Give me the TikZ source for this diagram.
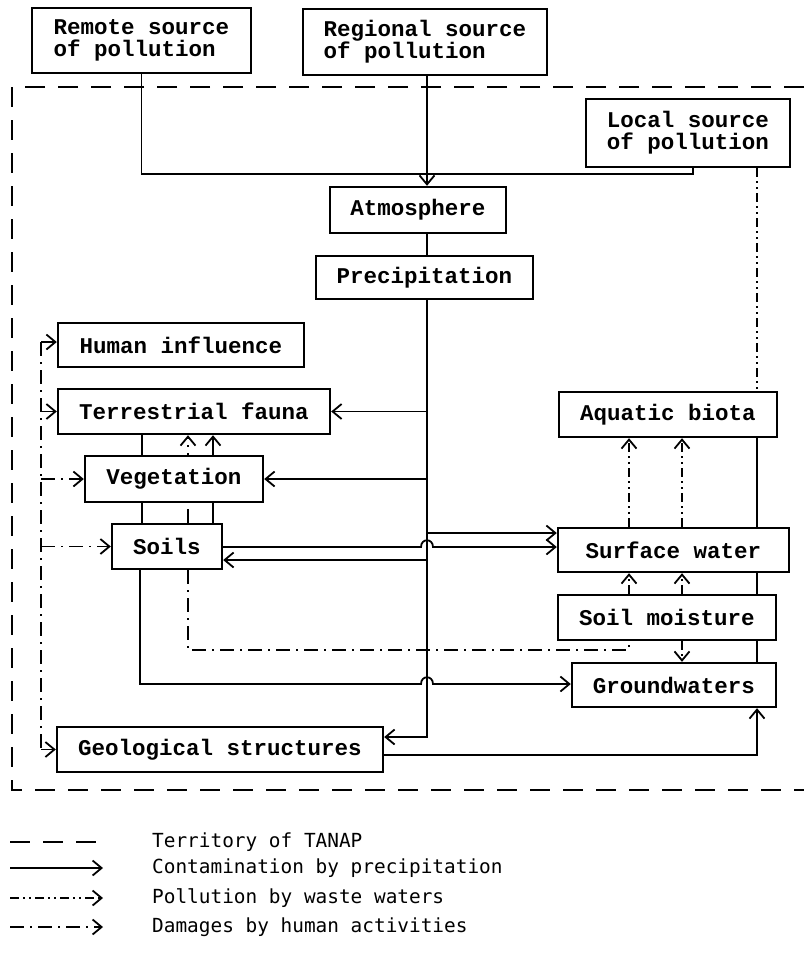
\documentclass[tikz,border=0pt]{standalone}
\usepackage{fontspec}
\newfontfamily\boxfont{Liberation Mono}
\newfontfamily\legfont{DejaVu Sans Mono}
\usetikzlibrary{arrows.meta,backgrounds,calc}
\begin{document}
\begin{tikzpicture}[x=1pt,y=-1pt,
  bx/.style={draw, line width=2.4pt, fill=white, inner sep=0pt, font=\boxfont\bfseries\fontsize{22.5}{22}\selectfont, align=left},
  ln/.style={line width=1.8pt},
  arr/.style={-{Straight Barb[length=9pt,width=15pt]}},
  terr/.style={line width=1.8pt, dash pattern=on 20pt off 13pt},
  hum/.style={line width=1.8pt, dash pattern=on 14pt off 6pt on 2pt off 6pt},
  waste/.style={line width=1.8pt, dash pattern=on 9pt off 4pt on 2pt off 4pt on 2pt off 4pt},
  leg/.style={font=\legfont\fontsize{19.4}{22}\selectfont, anchor=west, inner sep=0pt}]
\useasboundingbox (0,0) rectangle (804,956);

% boxes
\node[bx, minimum width=219pt, minimum height=65pt] (remote) at (141.5,40.5) {Remote source\\of pollution};
\node[bx, minimum width=244pt, minimum height=66pt] (regional) at (425,42) {Regional source\\of pollution};
\node[bx, minimum width=204pt, minimum height=68pt] (local) at (688,133) {Local source\\of pollution};
\node[bx, minimum width=176pt, minimum height=46pt] (atmos) at (418,210) {Atmosphere};
\node[bx, minimum width=217pt, minimum height=43pt] (precip) at (424.5,277.5) {Precipitation};
\node[bx, minimum width=246pt, minimum height=44pt] (human) at (181,345) {Human influence};
\node[bx, minimum width=272pt, minimum height=45pt] (fauna) at (194,411.5) {Terrestrial fauna};
\node[bx, minimum width=178pt, minimum height=46pt] (veg) at (174,479) {Vegetation};
\node[bx, minimum width=110pt, minimum height=45pt] (soils) at (167,546.5) {Soils};
\node[bx, minimum width=326pt, minimum height=45pt] (geo) at (220,749.5) {Geological structures};
\node[bx, minimum width=218pt, minimum height=45pt] (aquatic) at (668,414.5) {Aquatic biota};
\node[bx, minimum width=231pt, minimum height=44pt] (surface) at (673.5,550) {Surface water};
\node[bx, minimum width=218pt, minimum height=45pt] (moisture) at (667,617.5) {Soil moisture};
\node[bx, minimum width=204pt, minimum height=44pt] (ground) at (674,685) {Groundwaters};

% helper coordinates
\coordinate (tx) at (427,0);
\coordinate (j1) at (427,174);
\coordinate (lx) at (693,0);
\coordinate (rx) at (757,0);
\coordinate (c41) at (41,0);
\coordinate (c140) at (140,0);
\coordinate (c142) at (142,0);
\coordinate (c188) at (188,0);
\coordinate (c213) at (213,0);
\coordinate (c629) at (629,0);
\coordinate (c682) at (682,0);
\coordinate (k1) at (629,650);
\coordinate (h1a) at (421,547);
\coordinate (h1b) at (433,547);
\coordinate (h2a) at (421,684);
\coordinate (h2b) at (433,684);
\coordinate (swin) at ([yshift=17pt]surface.west);
\coordinate (soin) at ([yshift=-13.5pt]soils.east);
\coordinate (geoin) at ([yshift=12.5pt]geo.east);
\coordinate (geoout) at ([yshift=-5.5pt]geo.east);
\coordinate (hin) at ([yshift=3pt]human.west);

\begin{scope}[on background layer]
% territory
\draw[terr] (804,87) -- (12,87) -- (12,790) -- (804,790);
% sources to atmosphere
\draw[ln] (remote.south) |- (j1);
\draw[ln] (local.south -| lx) |- (j1);
\draw[ln,arr] (regional.south -| tx) -- (atmos.north -| tx);
\draw[ln] (atmos.south -| tx) -- (precip.north -| tx);
% precipitation trunk
\draw[ln,arr] (precip.south -| tx) |- (geoin);
\draw[ln,arr] (fauna.east -| tx) -- (fauna.east);
\draw[ln,arr] (veg.east -| tx) -- (veg.east);
\draw[ln,arr] (swin -| tx) -- (swin);
\draw[ln,arr] (soin -| tx) -- (soin);
% soils outputs
\draw[ln,arr] (soils.east |- h1a) -- (h1a) .. controls +(0,-9) and +(0,-9) .. (h1b) -- (surface.west |- h1b);
\draw[ln,arr] (soils.south -| c140) |- (h2a) .. controls +(0,-9) and +(0,-9) .. (h2b) -- (ground.west |- h2b);
\draw[ln] (soils.north -| c142) -- (fauna.south -| c142);
\draw[hum,arr] (soils.north -| c188) -- (fauna.south -| c188);
\draw[ln,arr] (soils.north -| c213) -- (fauna.south -| c213);
\draw[hum] (soils.south -| c188) |- (k1) -- (moisture.south -| k1);
% human activities
\draw[hum] (hin -| c41) -- (geo.west -| c41);
\draw[hum,arr] (hin -| c41) -- (hin);
\draw[hum,arr] (fauna.west -| c41) -- (fauna.west);
\draw[hum,arr] (veg.west -| c41) -- (veg.west);
\draw[hum,arr] (soils.west -| c41) -- (soils.west);
\draw[hum,arr] (geo.west -| c41) -- (geo.west);
% right side
\draw[waste] (local.south -| rx) -- (aquatic.north -| rx);
\draw[ln] (aquatic.south -| rx) -- (ground.north -| rx);
\draw[ln,arr] (geoout) -| (ground.south -| rx);
\draw[waste,arr] (surface.north -| c629) -- (aquatic.south -| c629);
\draw[waste,arr] (surface.north -| c682) -- (aquatic.south -| c682);
\draw[waste,arr] (moisture.north -| c629) -- (surface.south -| c629);
\draw[waste,arr] (moisture.north -| c682) -- (surface.south -| c682);
\draw[waste,arr] (moisture.south -| c682) -- (ground.north -| c682);
\end{scope}

% legend
\node[leg] (l1) at (152,842) {Territory of TANAP};
\node[leg] (l2) at (152,868) {Contamination by precipitation};
\node[leg] (l3) at (152,898) {Pollution by waste waters};
\node[leg] (l4) at (152,927) {Damages by human activities};
\coordinate (l1a) at (10,842); \coordinate (l1b) at (100,842);
\coordinate (l2a) at (10,868); \coordinate (l2b) at (103,868);
\coordinate (l3a) at (10,898); \coordinate (l3b) at (103,898);
\coordinate (l4a) at (10,927); \coordinate (l4b) at (103,927);
\draw[terr] (l1a) -- (l1b);
\draw[ln,arr] (l2a) -- (l2b);
\draw[waste,arr] (l3a) -- (l3b);
\draw[hum,arr] (l4a) -- (l4b);
\end{tikzpicture}
\end{document}
